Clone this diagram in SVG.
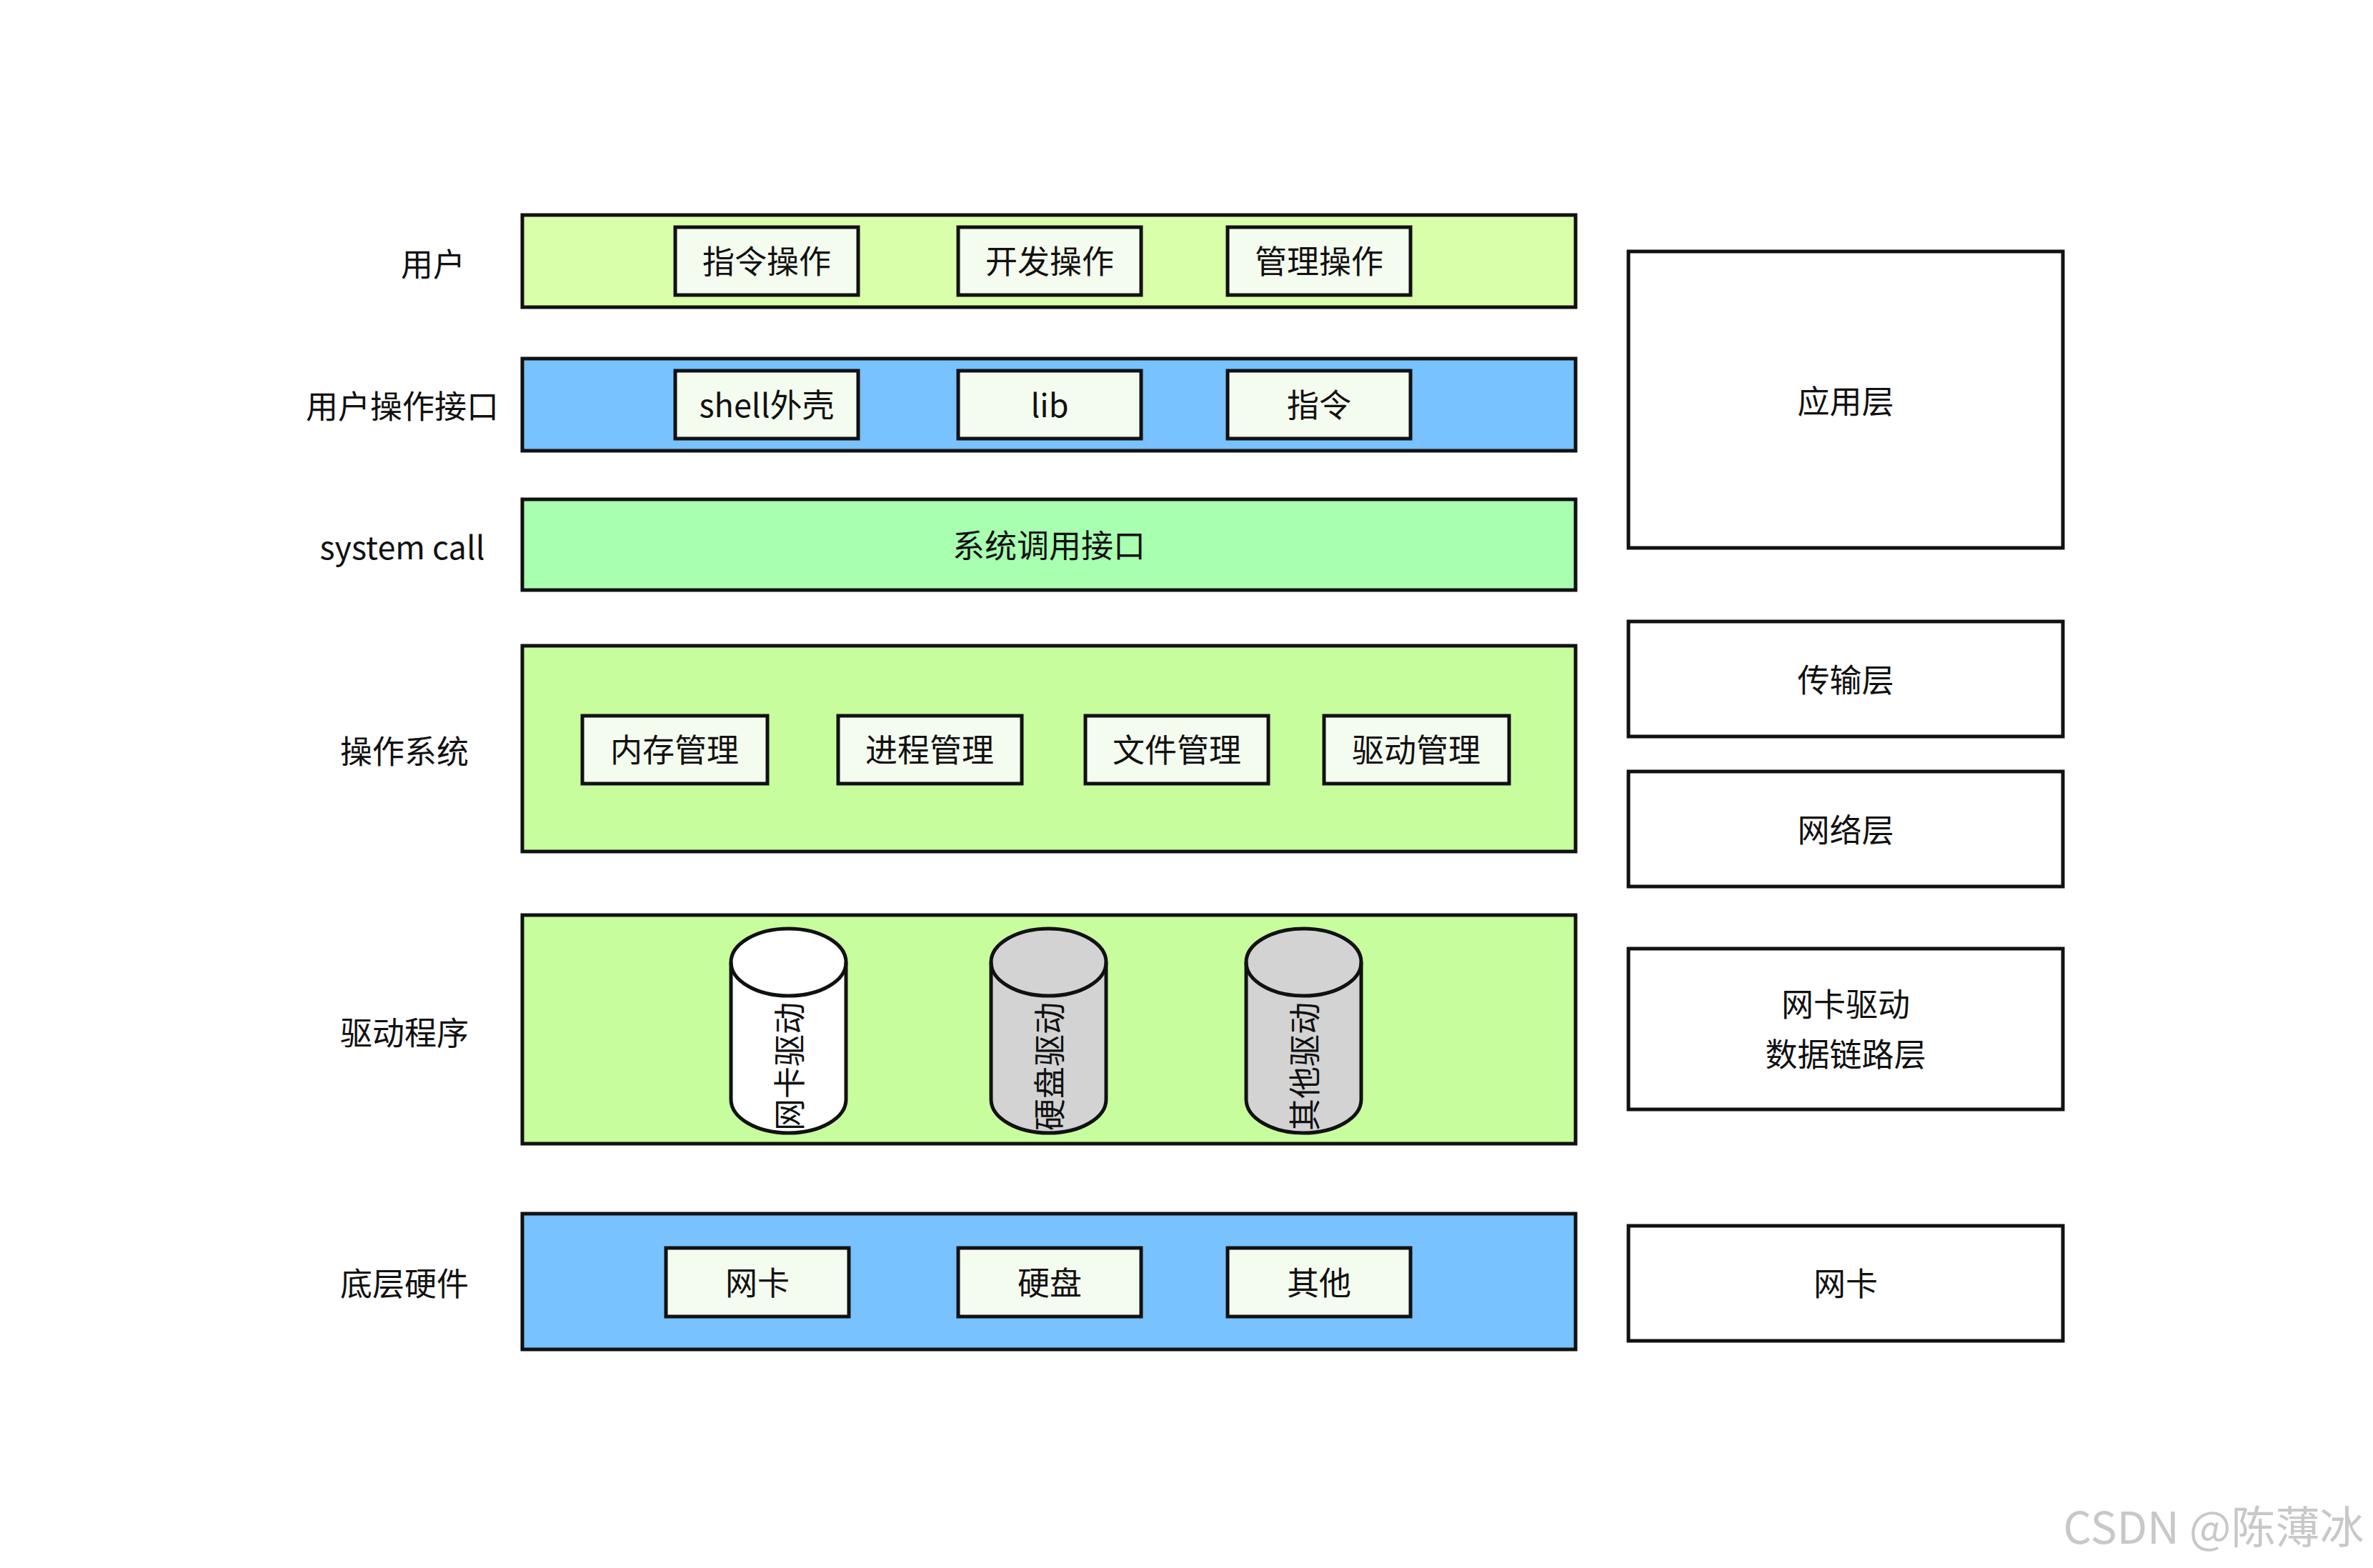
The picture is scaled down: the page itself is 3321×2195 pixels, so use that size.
<svg xmlns="http://www.w3.org/2000/svg" width="3321" height="2195" viewBox="0 0 3321 2195">
<style>
text{font-family:"Noto Sans CJK SC","Noto Sans",sans-serif;font-size:45px;fill:#111;text-anchor:middle;dominant-baseline:central}
.band{stroke:#111;stroke-width:5}
.box{fill:#f4fbef;stroke:#111;stroke-width:5}
.rb{fill:#fff;stroke:#111;stroke-width:5}
.cyl{stroke:#111;stroke-width:5}
</style>
<rect width="3321" height="2195" fill="#fff"/>
<g id="labels">
<text x="606" y="367">用户</text>
<text x="563" y="566">用户操作接口</text>
<text x="563" y="763">system call</text>
<text x="566" y="1049">操作系统</text>
<text x="566" y="1443">驱动程序</text>
<text x="566" y="1794">底层硬件</text>
</g>
<g id="user">
<rect class="band" x="731" y="301" width="1474" height="129" fill="#daffaa"/>
<rect class="box" x="945" y="318" width="256" height="95"/><text x="1073" y="363">指令操作</text>
<rect class="box" x="1341" y="318" width="256" height="95"/><text x="1469" y="363">开发操作</text>
<rect class="box" x="1718" y="318" width="256" height="95"/><text x="1846" y="363">管理操作</text>
</g>
<g id="uapi">
<rect class="band" x="731" y="502" width="1474" height="129" fill="#77c2ff"/>
<rect class="box" x="945" y="519" width="256" height="95"/><text x="1073" y="564">shell外壳</text>
<rect class="box" x="1341" y="519" width="256" height="95"/><text x="1469" y="564">lib</text>
<rect class="box" x="1718" y="519" width="256" height="95"/><text x="1846" y="564">指令</text>
</g>
<g id="syscall">
<rect class="band" x="731" y="699" width="1474" height="127" fill="#a8ffb0"/>
<text x="1468" y="761">系统调用接口</text>
</g>
<g id="os">
<rect class="band" x="731" y="904" width="1474" height="288" fill="#c8fd9d"/>
<rect class="box" x="815" y="1002" width="259" height="95"/><text x="944" y="1047">内存管理</text>
<rect class="box" x="1173" y="1002" width="257" height="95"/><text x="1301" y="1047">进程管理</text>
<rect class="box" x="1519" y="1002" width="256" height="95"/><text x="1647" y="1047">文件管理</text>
<rect class="box" x="1853" y="1002" width="259" height="95"/><text x="1982" y="1047">驱动管理</text>
</g>
<g id="drivers">
<rect class="band" x="731" y="1281" width="1474" height="320" fill="#c8fd9d"/>
<g id="cyl1"><path class="cyl" fill="#fff" d="M1023 1347 A80.5 47 0 0 1 1184 1347 L1184 1539 A80.5 47 0 0 1 1023 1539 Z"/><path class="cyl" fill="none" d="M1023 1347 A80.5 47 0 0 0 1184 1347"/><text transform="translate(1102 1493) rotate(-90)">网卡驱动</text></g>
<g id="cyl2"><path class="cyl" fill="#d3d3d3" d="M1387 1347 A80.5 47 0 0 1 1548 1347 L1548 1539 A80.5 47 0 0 1 1387 1539 Z"/><path class="cyl" fill="none" d="M1387 1347 A80.5 47 0 0 0 1548 1347"/><text transform="translate(1466 1493) rotate(-90)">硬盘驱动</text></g>
<g id="cyl3"><path class="cyl" fill="#d3d3d3" d="M1744 1347 A80.5 47 0 0 1 1905 1347 L1905 1539 A80.5 47 0 0 1 1744 1539 Z"/><path class="cyl" fill="none" d="M1744 1347 A80.5 47 0 0 0 1905 1347"/><text transform="translate(1823 1493) rotate(-90)">其他驱动</text></g>
</g>
<g id="hw">
<rect class="band" x="731" y="1699" width="1474" height="190" fill="#77c2ff"/>
<rect class="box" x="932" y="1747" width="256" height="96"/><text x="1060" y="1793">网卡</text>
<rect class="box" x="1341" y="1747" width="256" height="96"/><text x="1469" y="1793">硬盘</text>
<rect class="box" x="1718" y="1747" width="256" height="96"/><text x="1846" y="1793">其他</text>
</g>
<g id="right">
<rect class="rb" x="2279" y="352" width="608" height="415"/><text x="2583" y="559">应用层</text>
<rect class="rb" x="2279" y="870" width="608" height="161"/><text x="2583" y="949">传输层</text>
<rect class="rb" x="2279" y="1080" width="608" height="161"/><text x="2583" y="1159">网络层</text>
<rect class="rb" x="2279" y="1328" width="608" height="225"/><text x="2583" y="1403">网卡驱动</text><text x="2583" y="1473">数据链路层</text>
<rect class="rb" x="2279" y="1716" width="608" height="161"/><text x="2583" y="1794">网卡</text>
</g>
<g id="connectors"/>
<text x="3098" y="2134" style="font-size:62px;fill:#c8c8c8">CSDN @陈薄冰</text>
</svg>
